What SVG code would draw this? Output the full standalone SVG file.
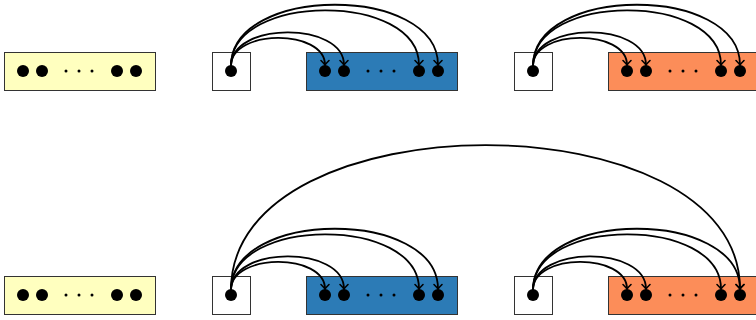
<svg xmlns="http://www.w3.org/2000/svg" width="756" height="320" viewBox="0 0 756 320">
<style>
.box{stroke:#333;stroke-width:1}
.w{fill:#fff}
.y{fill:#ffffbf}
.b{fill:#2c7bb6}
.o{fill:#fc8d59}
.d{fill:#000}
.arc{fill:none;stroke:#000;stroke-width:1.8;marker-end:url(#ah)}
</style>
<defs>
<marker id="ah" markerUnits="userSpaceOnUse" markerWidth="12" markerHeight="12" viewBox="-6 -6 12 12" refX="0" refY="0" orient="auto">
<path d="M-4.5,-4 Q-1.5,-1 0,0 Q-1.5,1 -4.5,4" fill="none" stroke="#000" stroke-width="1.6" stroke-linecap="round"/>
</marker>
<g id="dots">
<circle class="d" cx="19" cy="0" r="6"/>
<circle class="d" cx="38" cy="0" r="6"/>
<circle class="d" cx="62" cy="0" r="1.5"/>
<circle class="d" cx="75" cy="0" r="1.5"/>
<circle class="d" cx="88" cy="0" r="1.5"/>
<circle class="d" cx="113" cy="0" r="6"/>
<circle class="d" cx="132" cy="0" r="6"/>
</g>
</defs>
<g id="row1-yellow"><rect class="box y" x="4.5" y="52.5" width="151" height="38"/><use href="#dots" x="4" y="71"/></g>
<g id="row1-src1"><rect class="box w" x="212.5" y="52.5" width="38" height="38"/><circle class="d" cx="231" cy="71" r="6"/></g>
<g id="row1-blue"><rect class="box b" x="306.5" y="52.5" width="151" height="38"/><use href="#dots" x="306" y="71"/></g>
<g id="row1-src2"><rect class="box w" x="514.5" y="52.5" width="38" height="38"/><circle class="d" cx="533" cy="71" r="6"/></g>
<g id="row1-orange"><rect class="box o" x="608.5" y="52.5" width="151" height="38"/><use href="#dots" x="608" y="71"/></g>
<g id="row2-yellow"><rect class="box y" x="4.5" y="276.5" width="151" height="38"/><use href="#dots" x="4" y="295"/></g>
<g id="row2-src1"><rect class="box w" x="212.5" y="276.5" width="38" height="38"/><circle class="d" cx="231" cy="295" r="6"/></g>
<g id="row2-blue"><rect class="box b" x="306.5" y="276.5" width="151" height="38"/><use href="#dots" x="306" y="295"/></g>
<g id="row2-src2"><rect class="box w" x="514.5" y="276.5" width="38" height="38"/><circle class="d" cx="533" cy="295" r="6"/></g>
<g id="row2-orange"><rect class="box o" x="608.5" y="276.5" width="151" height="38"/><use href="#dots" x="608" y="295"/></g>
<g id="connectors">
<path class="arc" d="M231,66 C231,28.7 325,28.7 325,65"/>
<path class="arc" d="M231,66 C231,21.3 344,21.3 344,65"/>
<path class="arc" d="M231,66 C231,-8.1 419,-8.1 419,65"/>
<path class="arc" d="M231,66 C231,-15.5 438,-15.5 438,65"/>
<path class="arc" d="M533,66 C533,28.7 627,28.7 627,65"/>
<path class="arc" d="M533,66 C533,21.3 646,21.3 646,65"/>
<path class="arc" d="M533,66 C533,-8.1 721,-8.1 721,65"/>
<path class="arc" d="M533,66 C533,-15.5 740,-15.5 740,65"/>
<path class="arc" d="M231,290 C231,252.7 325,252.7 325,289"/>
<path class="arc" d="M231,290 C231,245.3 344,245.3 344,289"/>
<path class="arc" d="M231,290 C231,215.9 419,215.9 419,289"/>
<path class="arc" d="M231,290 C231,208.5 438,208.5 438,289"/>
<path class="arc" d="M533,290 C533,252.7 627,252.7 627,289"/>
<path class="arc" d="M533,290 C533,245.3 646,245.3 646,289"/>
<path class="arc" d="M533,290 C533,215.9 721,215.9 721,289"/>
<path class="arc" d="M533,290 C533,208.5 740,208.5 740,289"/>
<path class="arc" d="M231,290 C231,97 740,97 740,289"/>
</g>
</svg>
